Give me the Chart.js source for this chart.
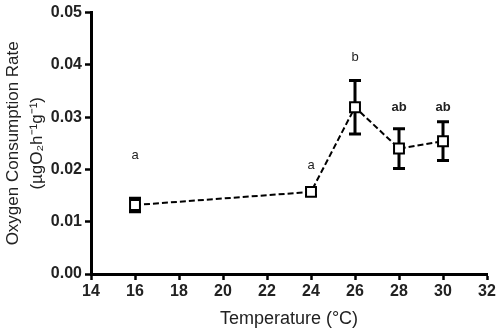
<!DOCTYPE html>
<html>
<head>
<meta charset="utf-8">
<script src="https://cdn.jsdelivr.net/npm/chart.js@4.4.0/dist/chart.umd.min.js"></script>
<style>
  html, body { margin: 0; padding: 0; background: #fff; }
  #wrap { width: 500px; height: 334px; }
</style>
</head>
<body>
<div id="wrap"><canvas id="c" width="500" height="334"></canvas></div>
<script>
// Data
const temperatures = [16, 24, 26, 28, 30];
const oxygenRate   = [0.0132, 0.0157, 0.0319, 0.0240, 0.0254];
const errorSEM     = [0.0013, 0.0007, 0.0051, 0.0038, 0.0037];
const groupLetters = ['a', 'a', 'b', 'ab', 'ab'];
const letterBold   = [false, false, false, true, true];
const letterLevel  = [0.0226, 0.0208, 0.0415, 0.0318, 0.0318];
const xTickLabels  = [14, 16, 18, 20, 22, 24, 26, 28, 30, 32];
const yTickLabels  = [0.00, 0.01, 0.02, 0.03, 0.04, 0.05];

const points = temperatures.map((t, i) => ({ x: t, y: oxygenRate[i] }));

const errorBarPlugin = {
  id: 'errorBars',
  beforeDatasetsDraw(chart) {
    const { ctx, scales: { x, y } } = chart;
    ctx.save();
    ctx.strokeStyle = '#000';
    ctx.lineWidth = 3;
    ctx.lineCap = 'butt';
    temperatures.forEach((t, i) => {
      const px = x.getPixelForValue(t);
      const top = y.getPixelForValue(oxygenRate[i] + errorSEM[i]);
      const bot = y.getPixelForValue(oxygenRate[i] - errorSEM[i]);
      ctx.beginPath();
      ctx.moveTo(px, top); ctx.lineTo(px, bot);
      ctx.moveTo(px - 6, top); ctx.lineTo(px + 6, top);
      ctx.moveTo(px - 6, bot); ctx.lineTo(px + 6, bot);
      ctx.stroke();
    });
    ctx.restore();
  },
  afterDatasetsDraw(chart) {
    const { ctx, scales: { x, y } } = chart;
    ctx.save();
    ctx.fillStyle = '#222';
    ctx.textAlign = 'center';
    ctx.textBaseline = 'middle';
    temperatures.forEach((t, i) => {
      ctx.font = (letterBold[i] ? 'bold ' : '') + '13px "Liberation Sans", Arial, sans-serif';
      ctx.fillText(groupLetters[i], x.getPixelForValue(t), y.getPixelForValue(letterLevel[i]));
    });
    ctx.restore();
  }
};

new Chart(document.getElementById('c'), {
  type: 'scatter',
  data: {
    datasets: [{
      data: points,
      showLine: true,
      borderColor: '#000',
      borderWidth: 2,
      borderDash: [6, 3],
      pointStyle: 'rect',
      pointRadius: 7,
      pointHoverRadius: 7,
      pointBackgroundColor: '#fff',
      pointBorderColor: '#000',
      pointBorderWidth: 2,
      clip: false
    }]
  },
  options: {
    responsive: false,
    animation: false,
    events: [],
    layout: { padding: { top: 12, right: 13, left: 0, bottom: 0 } },
    plugins: { legend: { display: false }, tooltip: { enabled: false } },
    scales: {
      x: {
        type: 'linear',
        min: 14, max: 32,
        afterBuildTicks(scale) { scale.ticks = xTickLabels.map(v => ({ value: v })); },
        afterFit(scale) { scale.height = 60; },
        border: { display: true, color: '#000', width: 3 },
        grid: { display: true, drawOnChartArea: false, drawTicks: true, tickLength: 6, tickColor: '#000', tickWidth: 2.5 },
        ticks: {
          color: '#222', padding: 2, maxRotation: 0,
          font: { family: '"Liberation Sans", Arial, sans-serif', size: 16, weight: 'bold' },
          callback: v => String(v)
        },
        title: {
          display: true, text: 'Temperature (°C)', color: '#222',
          font: { family: '"Liberation Sans", Arial, sans-serif', size: 18, lineHeight: 1.2 },
          padding: { top: 0, bottom: 4 }
        }
      },
      y: {
        type: 'linear',
        min: 0, max: 0.05,
        afterBuildTicks(scale) { scale.ticks = yTickLabels.map(v => ({ value: v })); },
        afterFit(scale) { scale.width = 91; },
        border: { display: true, color: '#000', width: 3 },
        grid: { display: true, drawOnChartArea: false, drawTicks: true, tickLength: 6, tickColor: '#000', tickWidth: 2.5 },
        ticks: {
          color: '#222', padding: 3,
          font: { family: '"Liberation Sans", Arial, sans-serif', size: 16, weight: 'bold' },
          callback: v => Number(v).toFixed(2)
        },
        title: {
          display: true, text: ['Oxygen Consumption Rate', '(µgO₂h⁻¹g⁻¹)'], color: '#222',
          font: { family: '"Liberation Sans", Arial, sans-serif', size: 17, lineHeight: 1.41 },
          padding: { top: 1, bottom: 0 }
        }
      }
    }
  },
  plugins: [errorBarPlugin]
});
</script>
</body>
</html>
